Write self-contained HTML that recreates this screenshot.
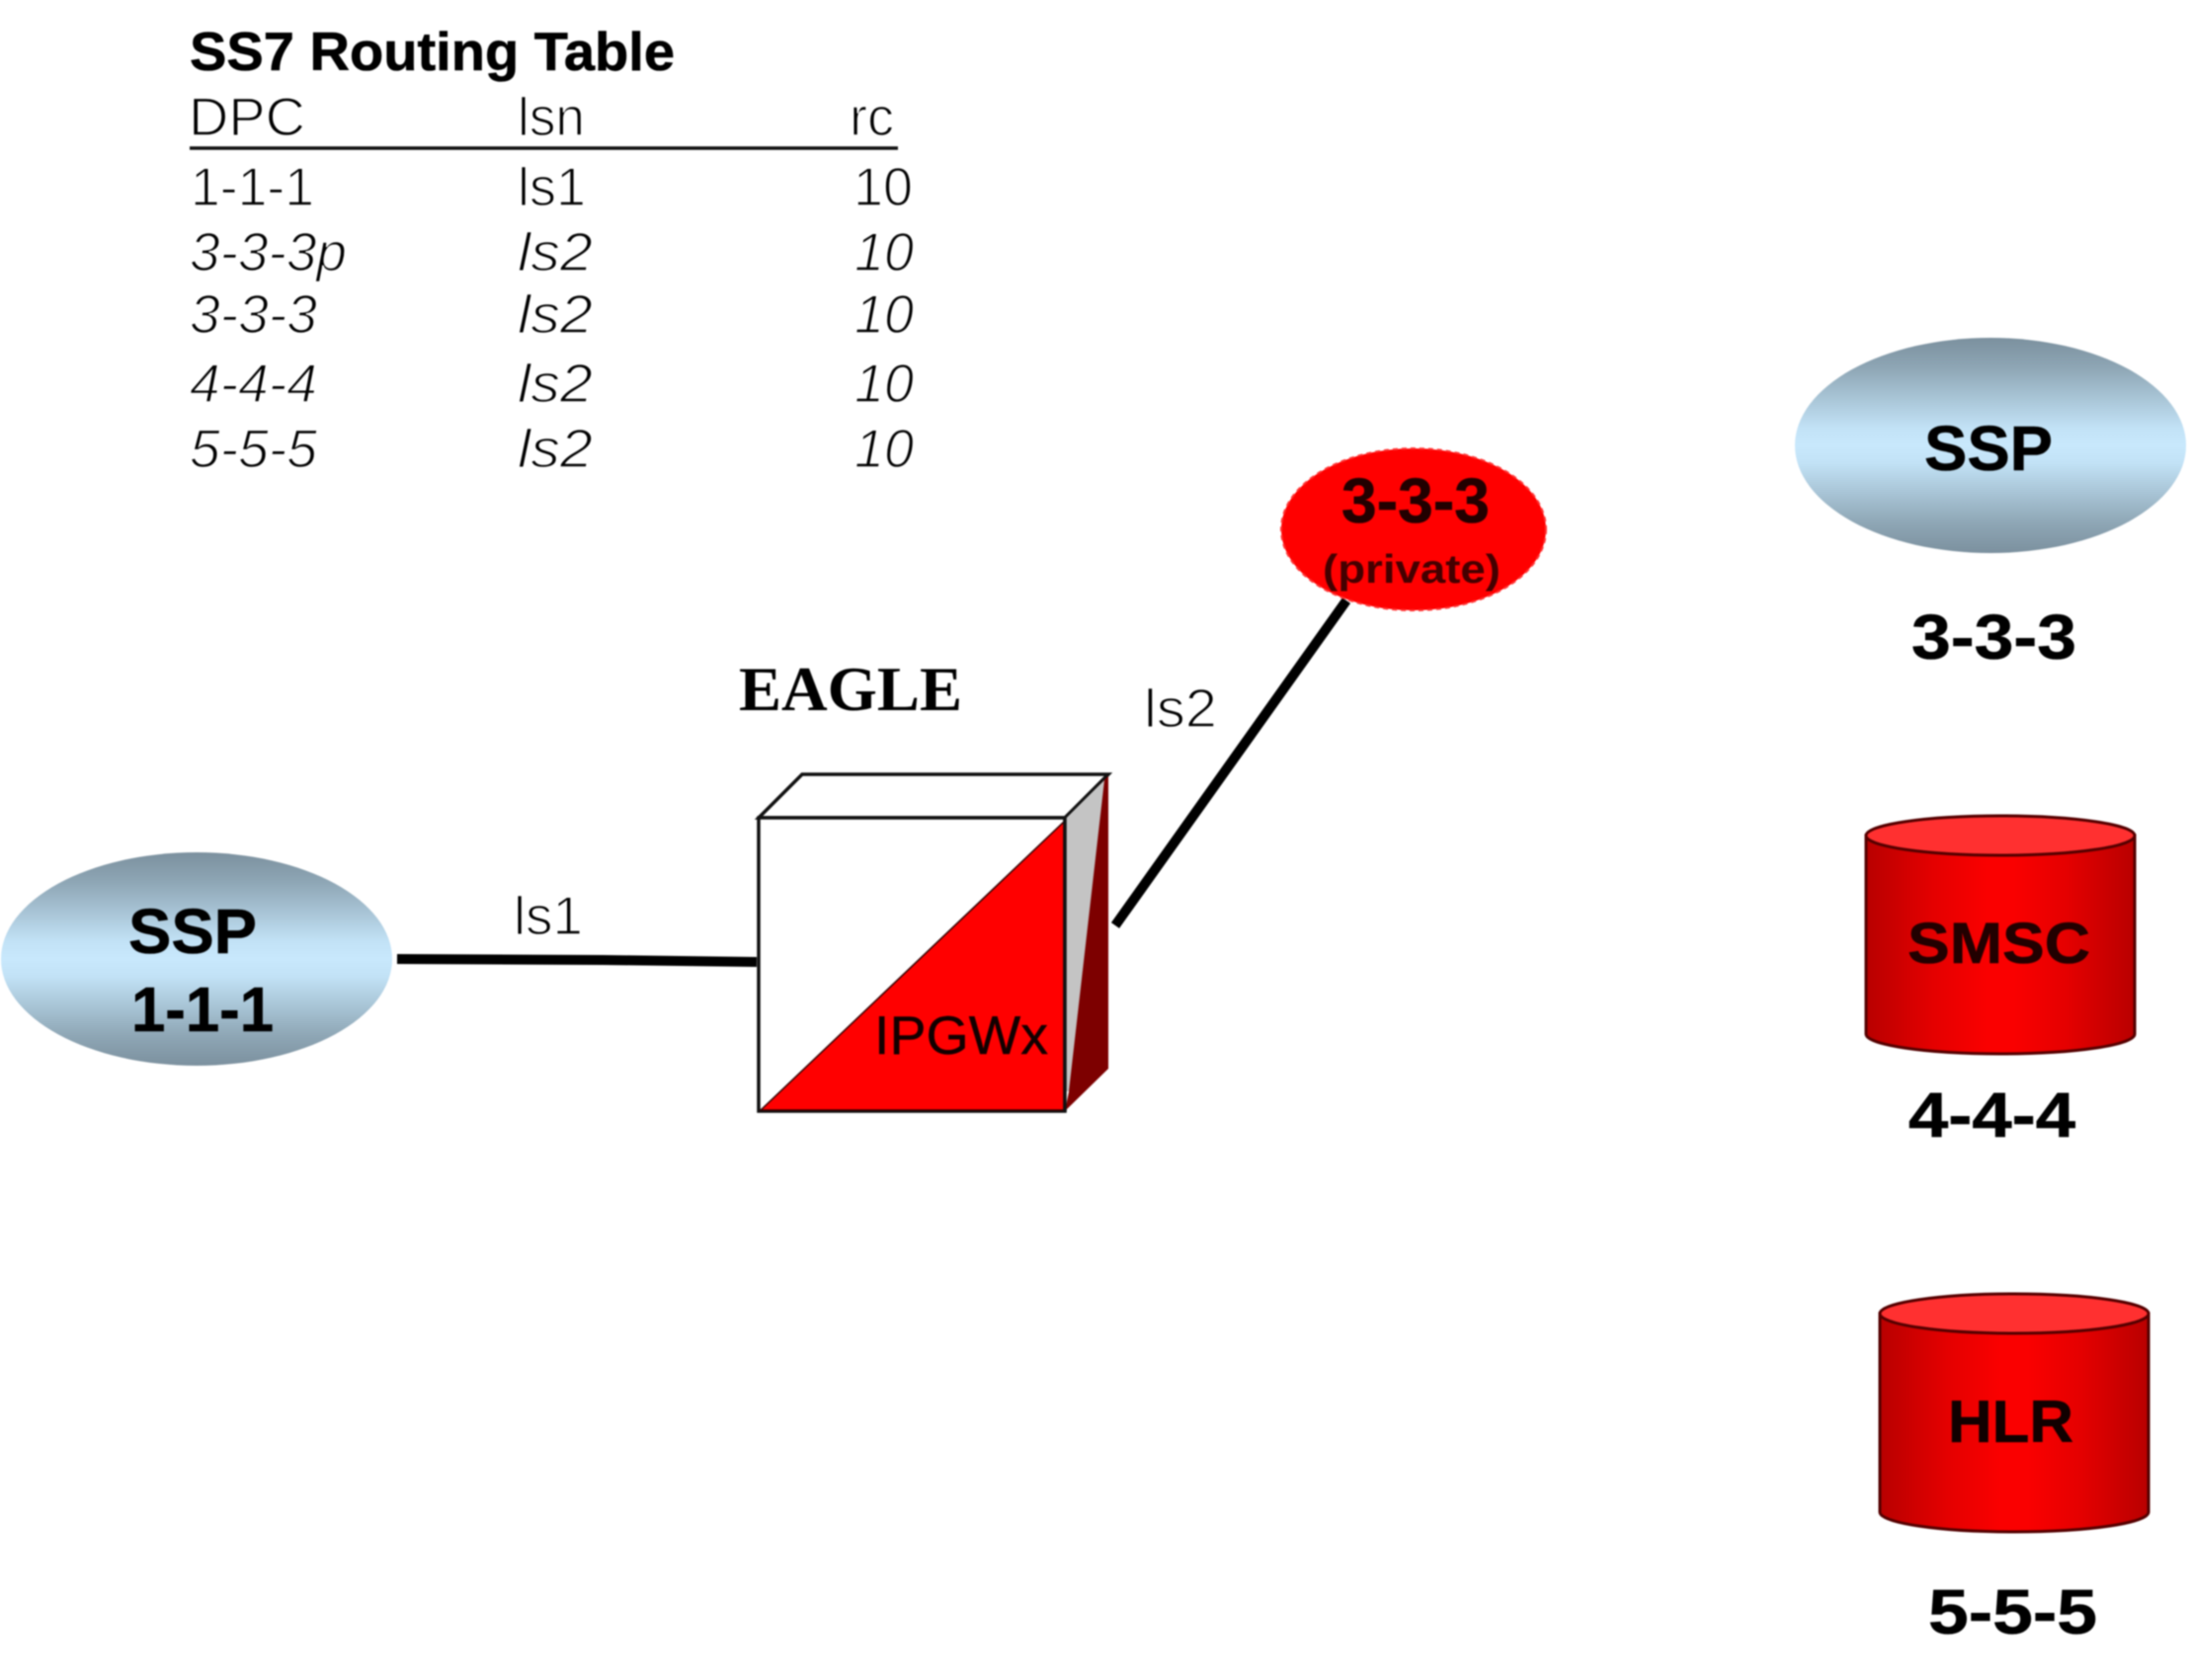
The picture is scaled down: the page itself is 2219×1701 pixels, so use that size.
<!DOCTYPE html>
<html>
<head>
<meta charset="utf-8">
<style>
html,body{margin:0;padding:0;background:#fff;width:2219px;height:1701px;overflow:hidden}
svg{display:block;filter:blur(.7px)}
text{font-family:"Liberation Sans",sans-serif}
.b{font-weight:bold;fill:#000;stroke:#000;stroke-width:.6px}
.t{font-size:55px;fill:#000;stroke:#fff;stroke-width:1.5px}
.i{font-style:italic}
</style>
</head>
<body>
<svg width="2219" height="1701" viewBox="0 0 2219 1701" xmlns="http://www.w3.org/2000/svg">
<defs>
<linearGradient id="blue" x1="0" y1="0" x2="0" y2="1">
<stop offset="0" stop-color="#7b909e"/><stop offset=".14" stop-color="#8ea6b5"/><stop offset=".42" stop-color="#c2e2f6"/><stop offset=".5" stop-color="#c8e8fc"/><stop offset=".58" stop-color="#c2e2f6"/><stop offset=".86" stop-color="#8ea6b5"/><stop offset="1" stop-color="#7b909e"/>
</linearGradient>
<linearGradient id="red" x1="0" y1="0" x2="1" y2="0">
<stop offset="0" stop-color="#b80000"/><stop offset=".25" stop-color="#e40000"/><stop offset=".45" stop-color="#fa0000"/><stop offset=".55" stop-color="#fa0000"/><stop offset=".75" stop-color="#e40000"/><stop offset="1" stop-color="#b80000"/>
</linearGradient>
</defs>

<text class="b" x="192" y="71" font-size="55" textLength="491" lengthAdjust="spacingAndGlyphs">SS7 Routing Table</text>
<text class="t" x="191" y="137" textLength="118" lengthAdjust="spacingAndGlyphs">DPC</text>
<text class="t" x="524" y="137" textLength="68" lengthAdjust="spacingAndGlyphs">lsn</text>
<text class="t" x="860" y="137" textLength="45" lengthAdjust="spacingAndGlyphs">rc</text>
<line x1="192" y1="150" x2="909" y2="150" stroke="#111" stroke-width="3.5"/>

<text class="t" x="193" y="208" textLength="125" lengthAdjust="spacingAndGlyphs">1-1-1</text>
<text class="t" x="524" y="208" textLength="69" lengthAdjust="spacingAndGlyphs">ls1</text>
<text class="t" x="864" y="208" textLength="60" lengthAdjust="spacingAndGlyphs">10</text>

<text class="t i" x="192" y="274" textLength="159" lengthAdjust="spacingAndGlyphs">3-3-3p</text>
<text class="t i" x="524" y="274" textLength="76" lengthAdjust="spacingAndGlyphs">ls2</text>
<text class="t i" x="865" y="274" textLength="60" lengthAdjust="spacingAndGlyphs">10</text>

<text class="t i" x="192" y="337" textLength="129" lengthAdjust="spacingAndGlyphs">3-3-3</text>
<text class="t i" x="524" y="337" textLength="76" lengthAdjust="spacingAndGlyphs">ls2</text>
<text class="t i" x="865" y="337" textLength="60" lengthAdjust="spacingAndGlyphs">10</text>

<text class="t i" x="192" y="407" textLength="129" lengthAdjust="spacingAndGlyphs">4-4-4</text>
<text class="t i" x="524" y="407" textLength="76" lengthAdjust="spacingAndGlyphs">ls2</text>
<text class="t i" x="865" y="407" textLength="60" lengthAdjust="spacingAndGlyphs">10</text>

<text class="t i" x="192" y="473" textLength="129" lengthAdjust="spacingAndGlyphs">5-5-5</text>
<text class="t i" x="524" y="473" textLength="76" lengthAdjust="spacingAndGlyphs">ls2</text>
<text class="t i" x="865" y="473" textLength="60" lengthAdjust="spacingAndGlyphs">10</text>

<!-- links -->
<polyline points="402,971 610,972 766,974" fill="none" stroke="#000" stroke-width="10"/>
<line x1="1129" y1="937" x2="1363" y2="608" stroke="#000" stroke-width="10"/>
<text class="t" x="520" y="946" textLength="70" lengthAdjust="spacingAndGlyphs">ls1</text>
<text class="t" x="1158" y="736" textLength="74" lengthAdjust="spacingAndGlyphs">ls2</text>

<!-- EAGLE -->
<text x="748" y="719" font-size="64" font-weight="bold" style="font-family:'Liberation Serif',serif" textLength="226" lengthAdjust="spacingAndGlyphs">EAGLE</text>

<!-- cube -->
<polygon points="768,828 812,784 1122,784 1078,828" fill="#fff" stroke="#111" stroke-width="3.5"/>
<rect x="768" y="828" width="310" height="297" fill="#fff" stroke="#111" stroke-width="3.5"/>
<polygon points="770,1124 1077,832 1077,1124" fill="#ff0000" stroke="#300" stroke-width="1.5"/>
<polygon points="1078,828 1122,784 1122,1082 1078,1125" fill="#7d0000"/>
<polygon points="1078,828 1118,790 1082,1105 1078,1125" fill="#c4c4c4"/>
<polygon points="1078,1105 1082,1105 1078,1125" fill="#fff"/>
<line x1="1078" y1="828" x2="1122" y2="784" stroke="#111" stroke-width="2.5"/>
<line x1="1078" y1="828" x2="1078" y2="1125" stroke="#111" stroke-width="3.5"/>
<text x="885" y="1067" font-size="55" fill="#100" stroke="#100" stroke-width=".4" textLength="176" lengthAdjust="spacingAndGlyphs">IPGWx</text>

<!-- private 3-3-3 -->
<ellipse cx="1431" cy="536" rx="134" ry="82" fill="#ff0000" stroke="#f33" stroke-width="2" stroke-dasharray="5 4"/>
<text x="1358" y="529" font-size="64" font-weight="bold" fill="#200" stroke="#200" stroke-width=".6" textLength="150" lengthAdjust="spacingAndGlyphs">3-3-3</text>
<text x="1339" y="590" font-size="41" font-weight="bold" fill="#400" textLength="180" lengthAdjust="spacingAndGlyphs">(private)</text>

<!-- left SSP -->
<ellipse cx="199" cy="971" rx="198" ry="108" fill="url(#blue)"/>
<text class="b" x="130" y="965" font-size="64" textLength="130" lengthAdjust="spacingAndGlyphs">SSP</text>
<text class="b" x="133" y="1044" font-size="64" textLength="144" lengthAdjust="spacingAndGlyphs">1-1-1</text>

<!-- right SSP -->
<ellipse cx="2015" cy="451" rx="198" ry="109" fill="url(#blue)"/>
<text class="b" x="1948" y="476" font-size="64" textLength="130" lengthAdjust="spacingAndGlyphs">SSP</text>
<text class="b" x="1935" y="667" font-size="64" textLength="167" lengthAdjust="spacingAndGlyphs">3-3-3</text>

<!-- SMSC -->
<path d="M1889,846 V1047 A136,20 0 0 0 2161,1047 V846 Z" fill="url(#red)" stroke="#500" stroke-width="3"/>
<ellipse cx="2025" cy="846" rx="136" ry="20" fill="#ff3030" stroke="#500" stroke-width="3"/>
<text x="1931" y="975" font-size="58" font-weight="bold" fill="#200" stroke="#200" stroke-width=".6" textLength="185" lengthAdjust="spacingAndGlyphs">SMSC</text>
<text class="b" x="1932" y="1151" font-size="64" textLength="169" lengthAdjust="spacingAndGlyphs">4-4-4</text>

<!-- HLR -->
<path d="M1903,1330 V1531 A136,20 0 0 0 2175,1531 V1330 Z" fill="url(#red)" stroke="#500" stroke-width="3"/>
<ellipse cx="2039" cy="1330" rx="136" ry="20" fill="#ff3030" stroke="#500" stroke-width="3"/>
<text x="1972" y="1460" font-size="60" font-weight="bold" fill="#100" stroke="#100" stroke-width=".6" textLength="127" lengthAdjust="spacingAndGlyphs">HLR</text>
<text class="b" x="1952" y="1654" font-size="64" textLength="171" lengthAdjust="spacingAndGlyphs">5-5-5</text>
</svg>
</body>
</html>
